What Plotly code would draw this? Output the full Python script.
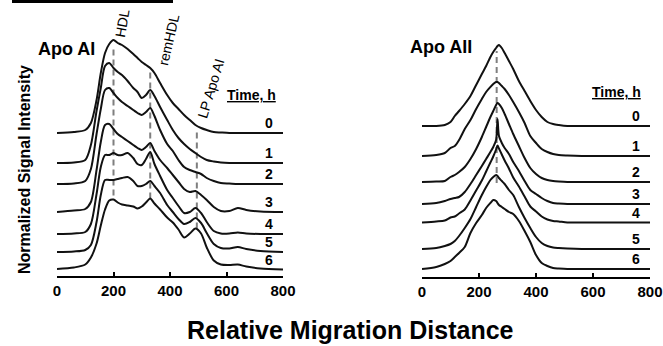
import plotly.graph_objects as go

W, H = 663, 346
FONT = "Arial, Liberation Sans, sans-serif"

time_labels = ["0", "1", "2", "3", "4", "5", "6"]

# ---------------- Apo AI panel ----------------
ai_x = [0, 60, 100, 120, 140, 155, 170, 185, 200, 215, 230, 250, 270, 285, 300, 315, 330,
        345, 365, 390, 410, 430, 450, 470, 490, 510, 530, 555, 580, 610, 640, 670, 720, 800]
ai_offsets = [142.5, 112.5, 91.5, 63.5, 41.5, 23.5, 6]
ai_t0 = [0, 1, 3, 10, 33, 60, 80, 89, 93, 90, 88, 84, 79, 75, 71, 68, 65, 60, 50, 38,
         30, 24, 18, 13, 8, 5, 3, 1, 0.5, 0, 0, 0, 0, 0]
ai_t1 = [0, 0.5, 3, 18, 52, 75, 97, 100, 95, 91, 88, 82, 75, 71, 65, 68, 73, 67, 56, 43,
         33, 25, 19, 14, 10, 6, 3, 1.5, 0.5, 0, 0, 0, 0, 0]
ai_t2 = [0, 0.5, 3, 15, 50, 75, 94, 96, 91, 86, 82, 78, 74, 71, 69, 72, 76, 68, 54, 40,
         33, 24, 17, 14, 12, 10, 6, 3, 1, 0.5, 0, 0, 0, 0]
ai_t3 = [0, 1.5, 3, 10, 42, 70, 87, 88, 83, 78, 75, 71, 67, 64, 62, 65, 69, 61, 52, 44,
         37, 30, 23, 20, 21, 17, 12, 5, 1, 1, 4, 2, 0.5, 0]
ai_t4 = [0, 0.5, 2, 10, 40, 67, 79, 79, 81, 79, 79, 81, 76, 70, 69, 75, 82, 70, 58, 44,
         36, 28, 21, 22, 26, 21, 12, 3, 0.5, 0.5, 1.5, 0.5, 0, 0]
ai_t5 = [0, 0.5, 2, 7, 30, 57, 72, 72, 72, 73, 74, 75, 71, 66, 66, 68, 71, 66, 59, 47,
         40, 33, 28, 30, 34, 29, 19, 8, 4, 3.5, 5, 3, 1, 0]
ai_t6 = [0.5, 2, 5, 12, 26, 44, 60, 69, 70, 67, 65, 64, 63, 61, 63, 67, 71, 66, 60, 52,
         47, 40, 32, 36, 41, 36, 22, 9, 5, 4.5, 5, 3, 1, 0]
ai_series = [ai_t0, ai_t1, ai_t2, ai_t3, ai_t4, ai_t5, ai_t6]

ai_marker_names = ["HDL", "remHDL", "LP Apo AI"]
ai_marker_x = [200, 330, 495]
ai_marker_y0 = [80, 77, 47]
ai_marker_y1 = [230, 207, 146]
ai_label_pos = [(229, 252, -80), (394, 236, -77), (543, 187, -73)]

# ---------------- Apo AII panel ----------------
aii_x = [0, 50, 80, 100, 115, 130, 150, 170, 190, 210, 225, 240, 250, 260, 265, 270, 280,
         290, 305, 320, 340, 360, 380, 400, 420, 440, 460, 480, 510, 560, 620, 700, 800]
aii_offsets = [151, 121, 95, 73, 54.5, 28, 8]
aii_t0 = [0, 0, 1, 4, 10, 15, 22, 30, 41, 52, 60, 69, 74, 78, 80, 81, 78, 73, 65, 57,
          45, 35, 25, 16, 9, 4, 2, 1, 0, 0, 0, 0, 0]
aii_t1 = [0, 1, 3, 8, 10, 16, 27, 36, 47, 57, 64, 69, 72, 74, 74, 73, 70, 67, 61, 54,
          44, 33, 20, 13, 7, 4, 2, 1, 0.5, 0, 0, 0, 0]
aii_t2 = [0, 0.5, 1, 5, 7, 10, 15, 23, 33, 45, 55, 65, 71, 77, 79, 78, 74, 68, 58, 48,
          36, 24, 14, 8, 4, 2, 1, 0.5, 0, 0, 0, 0, 0]
aii_t3 = [0, 1, 3, 5, 6, 7, 12, 20, 29, 38, 45, 52, 57, 64, 85, 68, 61, 56, 50, 42,
          33, 23, 14, 10, 6, 3, 1, 0.5, 0, 0, 0, 0, 0]
aii_t4 = [0, 1, 2, 5, 6, 9, 13, 22, 32, 42, 51, 60, 66, 73, 77, 74, 68, 62, 54, 45,
          36, 26, 16, 11, 6, 3, 1.5, 1, 0, 0, 0, 0, 0]
aii_t5 = [0, 1, 3, 5, 8, 13, 21, 30, 42, 54, 62, 69, 72, 74, 73, 71, 68, 65, 59, 54,
          42, 31, 21, 12, 6, 3, 1.5, 1, 0.5, 0, 0, 0, 0]
aii_t6 = [0, 2, 5, 8, 12, 16, 22, 36, 46, 54, 61, 66, 69, 68, 66, 64, 62, 60, 57, 55,
          48, 38, 27, 14, 6, 3, 1, 0.5, 0, 0, 0, 0, 0]
aii_series = [aii_t0, aii_t1, aii_t2, aii_t3, aii_t4, aii_t5, aii_t6]

aii_marker_x = [262]
aii_marker_y0 = [94]
aii_marker_y1 = [226]

x_ticks = [0, 200, 400, 600, 800]

# layout geometry (pixels)
L_AXIS_PX, R_AXIS_PX = 275.5, 277
L_X0, L_X1 = 57, 283
R_X0, R_X1 = 422, 650


def px_x(p):
    return p / W


def px_y(p):
    return 1 - p / H


fig = go.Figure()

panels = [
    ("x", "y", ai_x, ai_series, ai_offsets),
    ("x2", "y2", aii_x, aii_series, aii_offsets),
]
for xa, ya, xs, series, offs in panels:
    for vals, off in zip(series, offs):
        fig.add_trace(go.Scatter(
            x=xs, y=[off + v for v in vals], xaxis=xa, yaxis=ya, mode="lines",
            line=dict(color="#111111", width=2, shape="spline", smoothing=0.8),
            hoverinfo="skip", showlegend=False))

shapes = []
for mx, y0, y1 in zip(ai_marker_x, ai_marker_y0, ai_marker_y1):
    shapes.append(dict(type="line", xref="x", yref="y", x0=mx, x1=mx, y0=y0, y1=y1,
                       line=dict(color="#7f7f7f", width=2, dash="6px,4px"), layer="below"))
for mx, y0, y1 in zip(aii_marker_x, aii_marker_y0, aii_marker_y1):
    shapes.append(dict(type="line", xref="x2", yref="y2", x0=mx, x1=mx, y0=y0, y1=y1,
                       line=dict(color="#7f7f7f", width=2, dash="6px,4px"), layer="below"))
# black bar at the very top (cropped panel label)
shapes.append(dict(type="rect", xref="paper", yref="paper", x0=px_x(12), x1=px_x(173),
                   y0=px_y(3), y1=1.0, fillcolor="black", line=dict(width=0)))

ann = []
for name, (lx, ly, ang) in zip(ai_marker_names, ai_label_pos):
    ann.append(dict(x=lx, y=ly, xref="x", yref="y", text=name, showarrow=False,
                    textangle=ang, xanchor="center", yanchor="middle",
                    font=dict(family=FONT, size=14, color="black")))
# time labels
for xr, yr, offs in [("x", "y", ai_offsets), ("x2", "y2", aii_offsets)]:
    for lab, off in zip(time_labels, offs):
        ann.append(dict(x=772, y=off, xref=xr, yref=yr, text=lab, showarrow=False,
                        xanchor="right", yanchor="bottom",
                        font=dict(family=FONT, size=14, color="black", weight="bold")))
ann.append(dict(x=690, y=180.5, xref="x", yref="y", text="<u>Time, h</u>", showarrow=False,
                xanchor="center", yanchor="middle",
                font=dict(family=FONT, size=14, color="black", weight="bold")))
ann.append(dict(x=684, y=185, xref="x2", yref="y2", text="<u>Time, h</u>", showarrow=False,
                xanchor="center", yanchor="middle",
                font=dict(family=FONT, size=14, color="black", weight="bold")))
ann.append(dict(x=32, y=226.5, xref="x", yref="y", text="Apo AI", showarrow=False,
                xanchor="center", yanchor="middle",
                font=dict(family=FONT, size=18, color="black", weight="bold")))
ann.append(dict(x=67, y=230, xref="x2", yref="y2", text="Apo AII", showarrow=False,
                xanchor="center", yanchor="middle",
                font=dict(family=FONT, size=18, color="black", weight="bold")))
ann.append(dict(x=px_x(24), y=px_y(170), xref="paper", yref="paper",
                text="Normalized Signal Intensity", showarrow=False, textangle=-90,
                xanchor="center", yanchor="middle",
                font=dict(family=FONT, size=16, color="black", weight="bold")))
ann.append(dict(x=px_x(350), y=px_y(330), xref="paper", yref="paper",
                text="Relative Migration Distance", showarrow=False,
                xanchor="center", yanchor="middle",
                font=dict(family=FONT, size=25, color="black", weight="bold")))

xaxis_common = dict(range=[0, 800], showgrid=False, zeroline=False, showline=True,
                    linecolor="black", linewidth=2, ticks="inside", ticklen=4,
                    tickwidth=2, tickcolor="black", tickvals=x_ticks,
                    tickfont=dict(family=FONT, size=15, color="black", weight="bold"),
                    fixedrange=True, automargin=False)
yaxis_common = dict(showgrid=False, zeroline=False, showline=False, showticklabels=False,
                    ticks="", fixedrange=True, automargin=False)

fig.update_layout(
    width=W, height=H, autosize=False, margin=dict(l=0, r=0, t=0, b=0, pad=0),
    paper_bgcolor="white", plot_bgcolor="rgba(0,0,0,0)", showlegend=False,
    xaxis=dict(domain=[px_x(L_X0), px_x(L_X1)], anchor="y", **xaxis_common),
    yaxis=dict(domain=[px_y(L_AXIS_PX), 1], range=[0, L_AXIS_PX], anchor="x", **yaxis_common),
    xaxis2=dict(domain=[px_x(R_X0), px_x(R_X1)], anchor="y2", **xaxis_common),
    yaxis2=dict(domain=[px_y(R_AXIS_PX), 1], range=[0, R_AXIS_PX], anchor="x2", **yaxis_common),
    shapes=shapes, annotations=ann,
)

fig.write_html("out.html")
